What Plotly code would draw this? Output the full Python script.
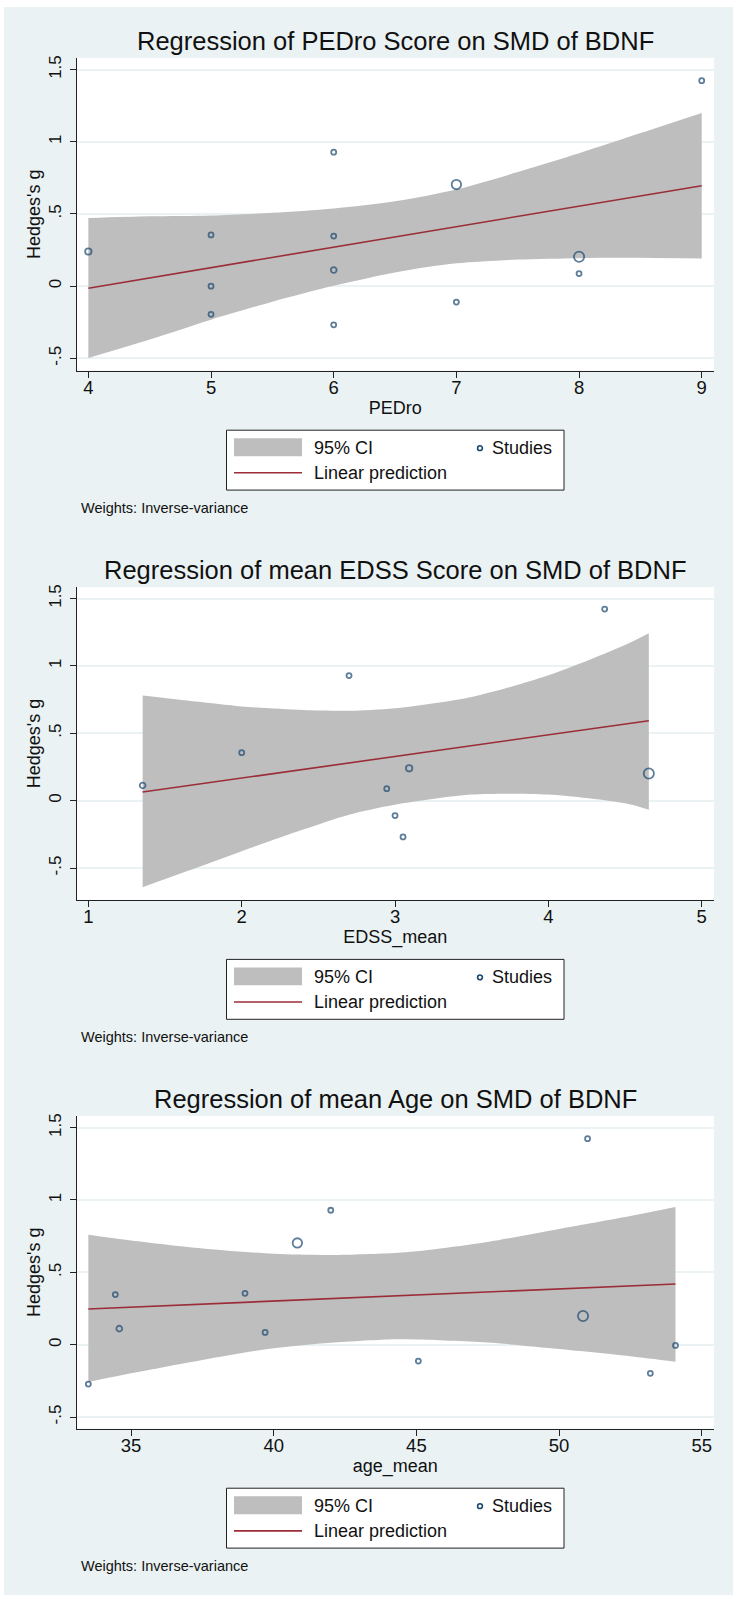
import plotly.graph_objects as go

W, H = 737, 1599
FONT = "Liberation Sans, Arial, sans-serif"
NAVY = "#1a476f"
RED = "#9b2d38"
BAND = "#bebebe"
BG = "#eaf2f3"

# ---- values ----
# Panel 1: PEDro score
pedro = [4, 5, 5, 5, 6, 6, 6, 6, 7, 7, 8, 8, 9]
g_pedro = [0.24, 0.355, 0.0, -0.195, 0.928, 0.347, 0.112, -0.268, 0.704, -0.11, 0.204, 0.087, 1.423]
w_pedro = [1.66, 1, 1, 1, 1, 1, 1.33, 1, 3.57, 1, 4.18, 1, 1]
ci_x_pedro = [4, 4.5, 5, 5.5, 6, 6.5, 7, 7.5, 8, 8.5, 9]
ci_hi_pedro = [0.472, 0.484, 0.49, 0.508, 0.538, 0.588, 0.67, 0.79, 0.92, 1.06, 1.20]
ci_lo_pedro = [-0.498, -0.37, -0.232, -0.108, 0.002, 0.095, 0.158, 0.184, 0.194, 0.196, 0.191]
fit_x_pedro = [4, 9]
fit_y_pedro = [-0.014, 0.696]

# Panel 2: mean EDSS
edss = [1.354, 2.0, 2.70, 2.946, 3.0, 3.052, 3.092, 4.367, 4.655]
g_edss = [0.113, 0.356, 0.928, 0.089, -0.111, -0.269, 0.24, 1.422, 0.202]
w_edss = [1.33, 1, 1, 1, 1, 1, 1.66, 1, 4.18]
ci_x_edss = [1.354, 1.7, 2.0, 2.4, 2.7, 3.0, 3.5, 4.0, 4.5, 4.655]
ci_hi_edss = [0.78, 0.735, 0.699, 0.672, 0.667, 0.686, 0.77, 0.93, 1.155, 1.242]
ci_lo_edss = [-0.642, -0.50, -0.375, -0.215, -0.104, -0.03, 0.045, 0.045, -0.02, -0.067]
fit_x_edss = [1.354, 4.655]
fit_y_edss = [0.064, 0.593]

# Panel 3: mean age
age = [33.505, 34.45, 34.59, 38.995, 39.70, 40.83, 42.0, 45.07, 50.84, 51.0, 53.2, 54.08]
g_age = [-0.272, 0.346, 0.111, 0.355, 0.085, 0.703, 0.929, -0.113, 0.198, 1.424, -0.198, -0.005]
w_age = [1, 1, 1.33, 1, 1, 3.57, 1, 1, 4.18, 1, 1, 1]
ci_x_age = [33.505, 35, 37.5, 40, 42, 44.24, 45, 47.5, 50, 52.5, 54.08]
ci_hi_age = [0.76, 0.72, 0.665, 0.628, 0.62, 0.634, 0.645, 0.71, 0.80, 0.89, 0.952]
ci_lo_age = [-0.258, -0.198, -0.105, -0.024, 0.014, 0.038, 0.036, 0.015, -0.03, -0.08, -0.118]
fit_x_age = [33.505, 54.08]
fit_y_age = [0.247, 0.419]

y_ticks = [-0.5, 0, 0.5, 1, 1.5]
y_ticktext = ["-.5", "0", ".5", "1", "1.5"]

panels = [
    dict(title="Regression of PEDro Score on SMD of BDNF", xtitle="PEDro",
         x=pedro, g=g_pedro, w=w_pedro, cx=ci_x_pedro, hi=ci_hi_pedro, lo=ci_lo_pedro,
         fx=fit_x_pedro, fy=fit_y_pedro, xticks=[4, 5, 6, 7, 8, 9],
         xrange=[3.905, 9.10], yrange=[-0.585, 1.581], top=55, bottom=368.3),
    dict(title="Regression of mean EDSS Score on SMD of BDNF", xtitle="EDSS_mean",
         x=edss, g=g_edss, w=w_edss, cx=ci_x_edss, hi=ci_hi_edss, lo=ci_lo_edss,
         fx=fit_x_edss, fy=fit_y_edss, xticks=[1, 2, 3, 4, 5],
         xrange=[0.924, 5.080], yrange=[-0.736, 1.584], top=585.3, bottom=898.5),
    dict(title="Regression of mean Age on SMD of BDNF", xtitle="age_mean",
         x=age, g=g_age, w=w_age, cx=ci_x_age, hi=ci_hi_age, lo=ci_lo_age,
         fx=fit_x_age, fy=fit_y_age, xticks=[35, 40, 45, 50, 55],
         xrange=[33.097, 55.43], yrange=[-0.58, 1.581], top=1115, bottom=1428.3),
]


def px(v):
    return v / W


def py(v):
    return 1 - v / H


PLOT_L, PLOT_R = 76.7, 714.0
SIZEREF = 0.08

fig = go.Figure()
shapes, annotations = [], []

for i, p in enumerate(panels):
    n = "" if i == 0 else str(i + 1)
    xa, ya = "x" + n, "y" + n
    dy = p["bottom"] - panels[0]["bottom"]

    fig.add_trace(go.Scatter(x=p["cx"], y=p["lo"], mode="lines",
                             line=dict(width=0, shape="spline", smoothing=0.8),
                             showlegend=False, hoverinfo="skip", xaxis=xa, yaxis=ya))
    fig.add_trace(go.Scatter(x=p["cx"], y=p["hi"], mode="lines", fill="tonexty",
                             fillcolor=BAND, line=dict(width=0, shape="spline", smoothing=0.8),
                             name="95% CI", showlegend=False, xaxis=xa, yaxis=ya))
    fig.add_trace(go.Scatter(x=p["fx"], y=p["fy"], mode="lines",
                             line=dict(color=RED, width=1.6), name="Linear prediction",
                             showlegend=False, xaxis=xa, yaxis=ya))
    fig.add_trace(go.Scatter(x=p["x"], y=p["g"], mode="markers", name="Studies",
                             marker=dict(symbol="circle-open", color=NAVY, size=p["w"],
                                         sizemode="area", sizeref=SIZEREF,
                                         line=dict(width=1.8, color=NAVY)),
                             showlegend=False, xaxis=xa, yaxis=ya))

    axis_font = dict(family=FONT, size=18.5, color="#111")
    fig.layout["xaxis" + n] = dict(
        domain=[px(PLOT_L), px(PLOT_R)], anchor=ya, range=p["xrange"],
        tickvals=p["xticks"], ticks="outside", ticklen=6, tickcolor="#222",
        tickfont=axis_font, ticklabelstandoff=-6,
        showline=True, linecolor="#222", linewidth=1.2, showgrid=False, zeroline=False,
        title=dict(text=p["xtitle"], font=dict(family=FONT, size=18, color="#111"), standoff=4),
    )
    fig.layout["yaxis" + n] = dict(
        domain=[py(p["bottom"]), py(p["top"])], anchor=xa, range=p["yrange"],
        tickvals=y_ticks, ticktext=y_ticktext, tickangle=-90,
        ticks="outside", ticklen=6, tickcolor="#222",
        tickfont=dict(family=FONT, size=17, color="#111"), ticklabelstandoff=2,
        showline=True, linecolor="#222", linewidth=1.2,
        showgrid=True, gridcolor=BG, gridwidth=1.6, zeroline=False,
        title=dict(text="Hedges's g", font=dict(family=FONT, size=18, color="#111"), standoff=0),
    )

    # panel title
    annotations.append(dict(text=p["title"], x=px(395), y=py(38 + dy), xref="paper", yref="paper",
                            xanchor="center", yanchor="middle", showarrow=False,
                            font=dict(family=FONT, size=25.5, color="#111")))

    # legend box (Stata-style two-column key)
    shapes.append(dict(type="rect", xref="paper", yref="paper", x0=px(226.5), x1=px(564),
                       y0=py(488 + dy), y1=py(428 + dy), line=dict(color="#222", width=1),
                       fillcolor="white"))
    shapes.append(dict(type="rect", xref="paper", yref="paper", x0=px(234), x1=px(302),
                       y0=py(454 + dy), y1=py(436 + dy), line=dict(width=0), fillcolor=BAND))
    shapes.append(dict(type="line", xref="paper", yref="paper", x0=px(234), x1=px(302),
                       y0=py(470.7 + dy), y1=py(470.7 + dy), line=dict(color=RED, width=1.6)))
    shapes.append(dict(type="circle", xref="paper", yref="paper", x0=px(477.6), x1=px(482.4),
                       y0=py(448.4 + dy), y1=py(443.6 + dy), line=dict(color=NAVY, width=1.6)))
    leg_font = dict(family=FONT, size=18, color="#111")
    for text, lx, ly in [("95% CI", 312, 446), ("Studies", 490, 446), ("Linear prediction", 312, 470.5)]:
        annotations.append(dict(text=text, x=px(lx), y=py(ly + dy), xref="paper", yref="paper",
                                xanchor="left", yanchor="middle", showarrow=False, font=leg_font))
    annotations.append(dict(text="Weights: Inverse-variance", x=px(79), y=py(505.7 + dy),
                            xref="paper", yref="paper", xanchor="left", yanchor="middle",
                            showarrow=False, font=dict(family=FONT, size=14.5, color="#111")))

# thin white frame around the light graph region
shapes.append(dict(type="rect", xref="paper", yref="paper", x0=0, x1=1, y0=0, y1=1,
                   line=dict(color="white", width=8), layer="above"))

fig.update_layout(
    width=W, height=H, margin=dict(l=0, r=0, t=0, b=0),
    paper_bgcolor=BG, plot_bgcolor="white",
    shapes=shapes, annotations=annotations, showlegend=False,
    font=dict(family=FONT, color="#111"),
)

fig.write_html("out.html", config={"displayModeBar": False},
               post_script="document.body.style.margin='0px';document.body.style.overflow='hidden';")
